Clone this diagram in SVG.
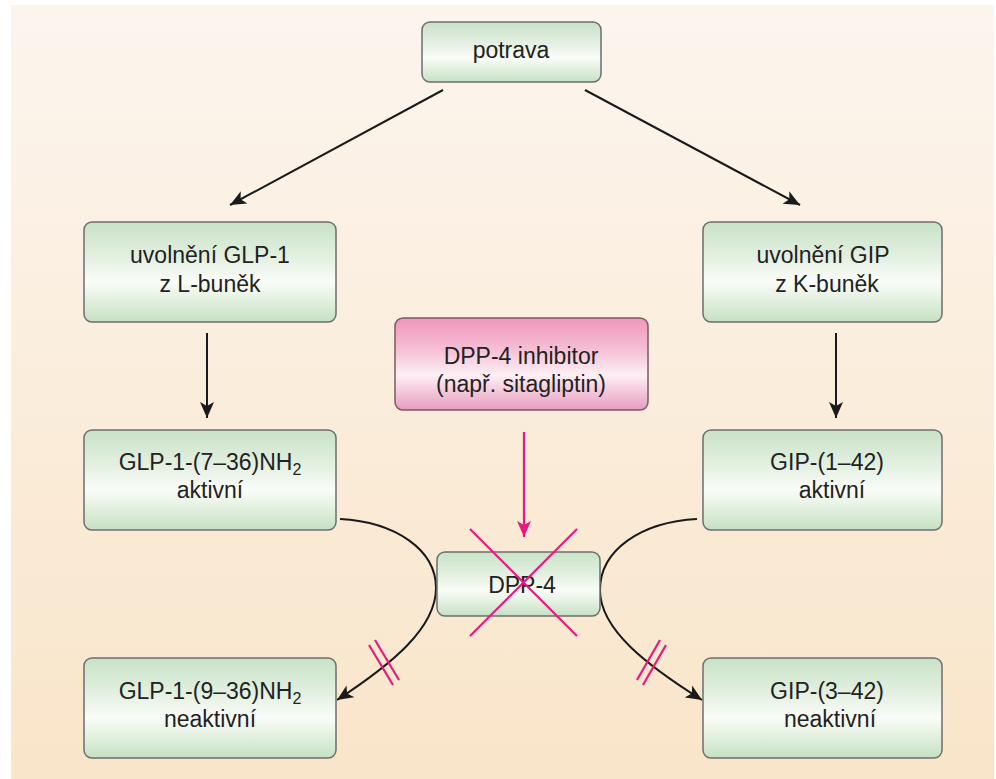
<svg xmlns="http://www.w3.org/2000/svg" width="996" height="779" viewBox="0 0 996 779">
<defs>
<linearGradient id="bg" x1="0" y1="0" x2="0" y2="1">
<stop offset="0" stop-color="#fcf5ee"/>
<stop offset="1" stop-color="#f9e5c9"/>
</linearGradient>
<linearGradient id="gr" x1="0" y1="0" x2="0" y2="1">
<stop offset="0" stop-color="#c8e2c7"/>
<stop offset="0.35" stop-color="#e3f0e1"/>
<stop offset="0.6" stop-color="#fafcf8"/>
<stop offset="0.8" stop-color="#e0efdd"/>
<stop offset="1" stop-color="#c6e0c4"/>
</linearGradient>
<linearGradient id="pk" x1="0" y1="0" x2="0" y2="1">
<stop offset="0" stop-color="#f096bb"/>
<stop offset="0.35" stop-color="#f6c0d6"/>
<stop offset="0.62" stop-color="#fdf0f5"/>
<stop offset="0.82" stop-color="#f3c3d8"/>
<stop offset="1" stop-color="#e79cc0"/>
</linearGradient>
<marker id="ah" markerUnits="userSpaceOnUse" markerWidth="20" markerHeight="16" refX="16" refY="7" orient="auto" viewBox="0 0 20 14">
<path d="M0,0 L16,7 L0,14 L4,7 Z" fill="#1a1a1a"/>
</marker>
<marker id="ahp" markerUnits="userSpaceOnUse" markerWidth="20" markerHeight="16" refX="16" refY="7" orient="auto" viewBox="0 0 20 14">
<path d="M0,0 L16,7 L0,14 L4,7 Z" fill="#e6197f"/>
</marker>
</defs>
<style>
.box{fill:url(#gr);stroke:#6e6e6e;stroke-width:1.5}
.pbox{fill:url(#pk);stroke:#7a5a66;stroke-width:1.5}
.t{font-family:"Liberation Sans",Arial,sans-serif;font-size:23px;fill:#222;text-anchor:middle}
.sub{font-size:16px}
.c{fill:none;stroke:#1a1a1a;stroke-width:2;marker-end:url(#ah)}
.p{fill:none;stroke:#e6197f;stroke-width:2.2}
</style>
<rect x="11" y="5" width="983" height="774" fill="url(#bg)"/>
<g id="connectors">
<line class="c" x1="443" y1="90" x2="230" y2="205"/>
<line class="c" x1="585" y1="90" x2="800" y2="205"/>
<line class="c" x1="207" y1="333" x2="207" y2="418"/>
<line class="c" x1="836" y1="333" x2="836" y2="418"/>
<line class="p" x1="524" y1="432" x2="524" y2="537" style="marker-end:url(#ahp)"/>
<path class="c" d="M340,519 C396,522 436,550 436,588 C436,628 392,664 337,700"/>
<path class="c" d="M697,519 C641,522 600,550 600,590 C600,630 648,666 702,700"/>
<line class="p" x1="369" y1="645" x2="393" y2="685"/>
<line class="p" x1="375" y1="640" x2="399" y2="680"/>
<line class="p" x1="637" y1="680" x2="660" y2="640"/>
<line class="p" x1="643" y1="685" x2="666" y2="645"/>
</g>
<g id="potrava">
<rect class="box" x="422" y="22" width="179" height="60" rx="8"/>
<text class="t" x="511" y="58">potrava</text>
</g>
<g id="glp1-release">
<rect class="box" x="84" y="222" width="252" height="100" rx="8"/>
<text class="t" x="210" y="263">uvolnění GLP-1</text>
<text class="t" x="210" y="292">z L-buněk</text>
</g>
<g id="gip-release">
<rect class="box" x="703" y="222" width="239" height="100" rx="8"/>
<text class="t" x="823" y="263">uvolnění GIP</text>
<text class="t" x="827" y="292">z K-buněk</text>
</g>
<g id="dpp4-inhibitor">
<rect class="pbox" x="395" y="318" width="253" height="92" rx="8"/>
<text class="t" x="521" y="364">DPP-4 inhibitor</text>
<text class="t" x="521" y="392">(např. sitagliptin)</text>
</g>
<g id="glp1-active">
<rect class="box" x="84" y="430" width="252" height="100" rx="8"/>
<text class="t" x="210" y="470">GLP-1-(7–36)NH<tspan class="sub" dy="5">2</tspan></text>
<text class="t" x="210" y="498">aktivní</text>
</g>
<g id="gip-active">
<rect class="box" x="703" y="430" width="239" height="100" rx="8"/>
<text class="t" x="827" y="470">GIP-(1–42)</text>
<text class="t" x="832" y="498">aktivní</text>
</g>
<g id="dpp4">
<rect class="box" x="437" y="552" width="163" height="64" rx="8"/>
<text class="t" x="522" y="593">DPP-4</text>
<line class="p" x1="470" y1="529" x2="577" y2="636"/>
<line class="p" x1="577" y1="529" x2="470" y2="636"/>
</g>
<g id="glp1-inactive">
<rect class="box" x="84" y="658" width="252" height="100" rx="8"/>
<text class="t" x="210" y="699">GLP-1-(9–36)NH<tspan class="sub" dy="5">2</tspan></text>
<text class="t" x="210" y="727">neaktivní</text>
</g>
<g id="gip-inactive">
<rect class="box" x="703" y="658" width="239" height="100" rx="8"/>
<text class="t" x="827" y="699">GIP-(3–42)</text>
<text class="t" x="830" y="727">neaktivní</text>
</g>
</svg>
